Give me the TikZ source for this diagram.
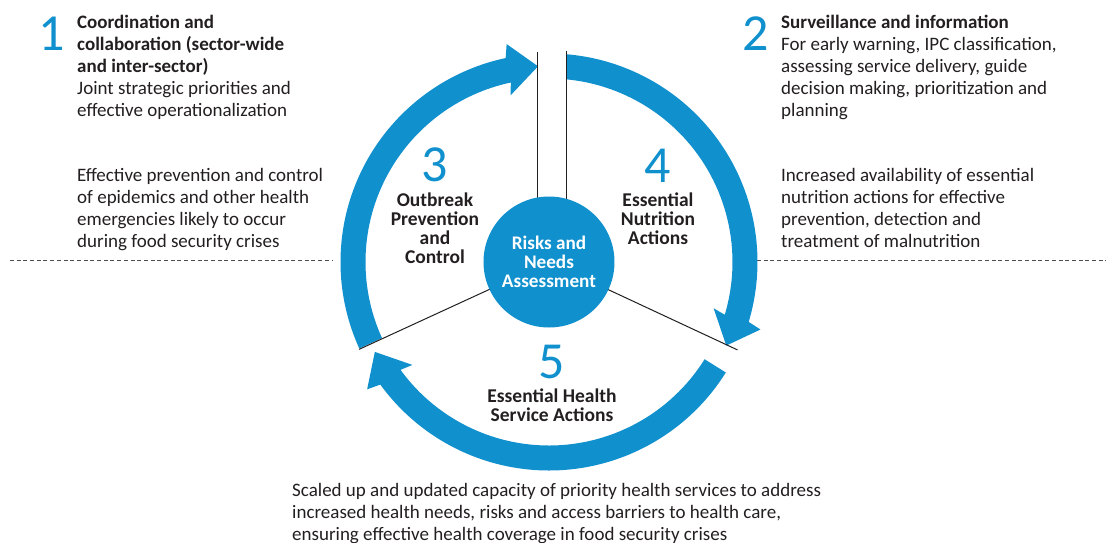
\documentclass[tikz,border=0pt]{standalone}
\usepackage{fontspec}
\setmainfont{Carlito}
\usetikzlibrary{positioning}
\definecolor{ringblue}{RGB}{17,144,206}
\definecolor{ink}{RGB}{35,31,32}
\tikzset{
  ring/.style    = {fill=ringblue, draw=none},
  hub/.style     = {circle, fill=ringblue, minimum size=131pt, inner sep=0pt,
                    text=white, align=center, font=\fontsize{19.2}{18.7}\selectfont\bfseries},
  phase/.style   = {text=ink, align=center, inner sep=0pt,
                    font=\fontsize{19.5}{19}\selectfont\bfseries},
  num/.style     = {text=ringblue, inner sep=0pt, font=\fontsize{52}{52}\selectfont},
  note/.style    = {text=ink, align=left, inner sep=0pt, font=\fontsize{19}{22}\selectfont},
  divider/.style = {draw=ink, line width=1pt},
  guide/.style   = {draw=ink!80, line width=0.8pt, dash pattern=on 4pt off 2.7pt}
}

\begin{document}
\begin{tikzpicture}[x=1pt, y=1pt]
\useasboundingbox (-549,-280) rectangle (557,262);

% dashed guides
\draw[guide] (-539,2) -- (-216,2);
\draw[guide] (208,2) -- (557,2);

% the three ring arrows (start outer/inner, head base, tip)
\foreach \so/\si/\b/\t in {204.5/204.5/102/93.2, 85.05/84.4/-16.7/-25.25, -32/-32/-144/-152.7}
  \fill[ring] (\so:208.5) arc[start angle=\so, end angle=\b, radius=208.5]
    -- ({\b-1}:222) -- (\t:196) -- ({\b+1}:171)
    -- (\b:183.5) arc[start angle=\b, end angle=\si, radius=183.5] -- cycle;

% sector dividers
\draw[divider] (-11,210) -- (-11,0);
\draw[divider] (18,211) -- (18,0);
\draw[divider] (0,0) -- (204.7:209);
\draw[divider] (0,0) -- (-25:208);

% centre
\node[hub] (hub) at (0,0) {Risks and\\Needs\\Assessment};

% phases on the ring
\node[num, anchor=base] (n3) at (-114,80.3) {3};
\node[phase, below=10pt of n3] (p3) {Outbreak\\Prevention\\and\\Control};
\node[num, anchor=base] (n4) at (109,80) {4};
\node[phase, below=10pt of n4] (p4) {Essential\\Nutrition\\Actions};
\node[num, anchor=base] (n5) at (3,-116) {5};
\node[phase, below=10pt of n5] (p5) {Essential Health\\Service Actions};

% outer notes
\node[num, anchor=base] (n1) at (-497.5,212) {1};
\node[note, anchor=north west] (t1) at (-472,247)
  {\textbf{Coordination and}\\\textbf{collaboration (sector-wide}\\\textbf{and inter-sector)}\\Joint strategic priorities and\\effective operationalization};
\node[note, anchor=north west] (g1) at (-472,93.5)
  {Effective prevention and control\\of epidemics and other health\\emergencies likely to occur\\during food security crises};

\node[num, anchor=base] (n2) at (207,212) {2};
\node[note, anchor=north west] (t2) at (232,247)
  {\textbf{Surveillance and information}\\For early warning, IPC classification,\\assessing service delivery, guide\\decision making, prioritization and\\planning};
\node[note, anchor=north west] (g2) at (232,93.5)
  {Increased availability of essential\\nutrition actions for effective\\prevention, detection and\\treatment of malnutrition};

\node[note, anchor=north west] (g5) at (-257,-221)
  {Scaled up and updated capacity of priority health services to address\\increased health needs, risks and access barriers to health care,\\ensuring effective health coverage in food security crises};
\end{tikzpicture}
\end{document}
